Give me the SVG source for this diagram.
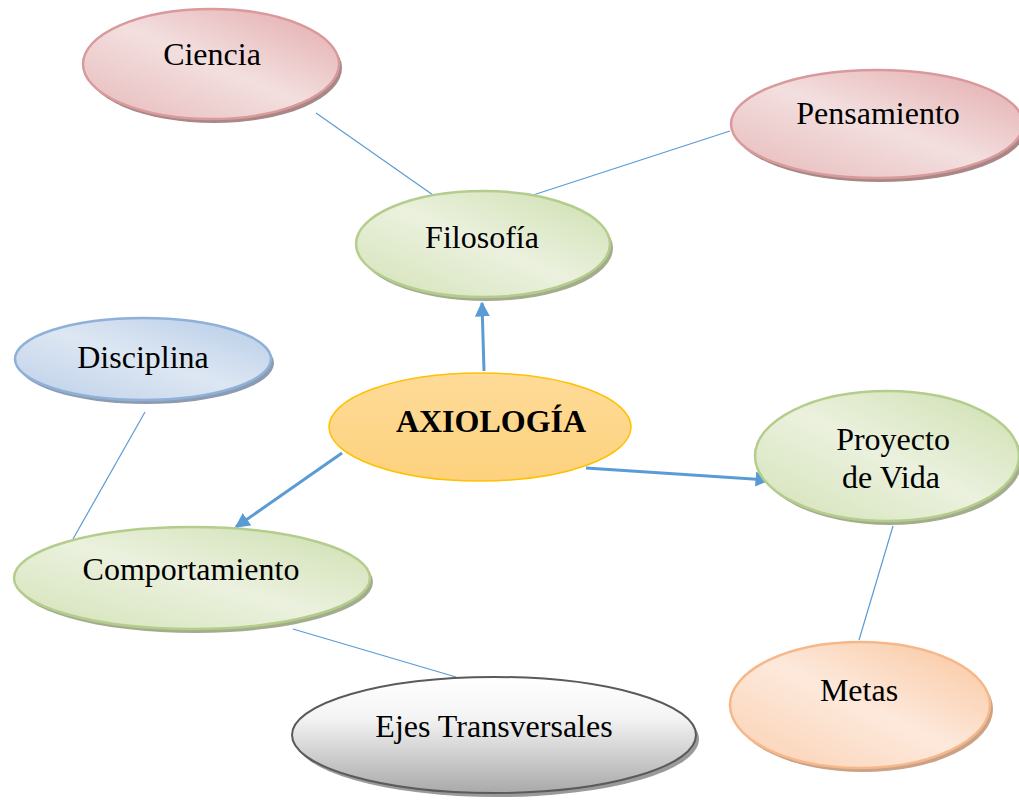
<svg xmlns="http://www.w3.org/2000/svg" width="1019" height="803" viewBox="0 0 1019 803">
<style>
text{font-family:"Liberation Serif","Times New Roman",serif;font-size:32px;fill:#000;text-anchor:middle}
.thin{stroke:#5b9bd5;stroke-width:1.2;fill:none}
.thick{stroke:#5b9bd5;stroke-width:3;fill:none}
.red{fill:url(#gRed);stroke:#d99a9c;stroke-width:2.5}
.green{fill:url(#gGreen);stroke:#b5cd8c;stroke-width:2.5}
.blue{fill:url(#gBlue);stroke:#8fb0d8;stroke-width:2.5}
.orange{fill:url(#gOrange);stroke:#f6b88a;stroke-width:2.5}
.gray{fill:url(#gGray);stroke:#5a5a5a;stroke-width:2}
.shR{fill:#a88787}.shG{fill:#a3ad8e}.shB{fill:#8c9bb0}.shO{fill:#c9a288}.shK{fill:#9a9a9a}
</style>
<defs>
<linearGradient id="gRed" x1="1" y1="0" x2="0" y2="1"><stop offset="0" stop-color="#e3a9ab"/><stop offset="0.5" stop-color="#f3dfdf"/><stop offset="1" stop-color="#e7b9ba"/></linearGradient>
<linearGradient id="gGreen" x1="1" y1="0" x2="0" y2="1"><stop offset="0" stop-color="#cddfae"/><stop offset="0.5" stop-color="#ebf1de"/><stop offset="1" stop-color="#d3e2b7"/></linearGradient>
<linearGradient id="gBlue" x1="1" y1="0" x2="0" y2="1"><stop offset="0" stop-color="#b5cbe7"/><stop offset="0.5" stop-color="#dde7f3"/><stop offset="1" stop-color="#bccfe8"/></linearGradient>
<linearGradient id="gOrange" x1="1" y1="0" x2="0" y2="1"><stop offset="0" stop-color="#f9c59c"/><stop offset="0.5" stop-color="#fde9dc"/><stop offset="1" stop-color="#fbd0b0"/></linearGradient>
<linearGradient id="gGray" x1="0" y1="0" x2="0" y2="1"><stop offset="0" stop-color="#ffffff"/><stop offset="0.35" stop-color="#f4f4f4"/><stop offset="1" stop-color="#a9a9a9"/></linearGradient>
<linearGradient id="gAxio" x1="0" y1="0" x2="0" y2="1"><stop offset="0" stop-color="#fedb98"/><stop offset="1" stop-color="#fdd27e"/></linearGradient>
<marker id="arr" viewBox="0 0 10 10" refX="9" refY="5" markerWidth="5" markerHeight="5" orient="auto" markerUnits="strokeWidth"><path d="M0,0 L10,5 L0,10 z" fill="#5b9bd5"/></marker>
</defs>
<g id="connectors">
<line class="thin" x1="316" y1="113" x2="433" y2="195"/>
<line class="thin" x1="730" y1="131" x2="527" y2="197"/>
<line class="thin" x1="145" y1="412" x2="73" y2="539"/>
<line class="thin" x1="293" y1="629" x2="456" y2="677"/>
<line class="thin" x1="893" y1="526" x2="859" y2="640"/>
<line class="thick" x1="484" y1="371" x2="482" y2="303" marker-end="url(#arr)"/>
<line class="thick" x1="342" y1="453" x2="236" y2="527" marker-end="url(#arr)"/>
<line class="thick" x1="586" y1="468" x2="769" y2="480" marker-end="url(#arr)"/>
</g>
<g id="ciencia"><ellipse class="shR" cx="214" cy="68" rx="128" ry="55"/><ellipse class="red" cx="211" cy="64" rx="128" ry="55"/><text x="212" y="65">Ciencia</text></g>
<g id="pensamiento"><ellipse class="shR" cx="880" cy="128" rx="146" ry="54"/><ellipse class="red" cx="877" cy="124" rx="146" ry="54"/><text x="878" y="124">Pensamiento</text></g>
<g id="filosofia"><ellipse class="shG" cx="486" cy="248" rx="127" ry="53"/><ellipse class="green" cx="483" cy="244" rx="127" ry="53"/><text x="482" y="248">Filosofía</text></g>
<g id="disciplina"><ellipse class="shB" cx="146" cy="363" rx="128" ry="41"/><ellipse class="blue" cx="143" cy="359" rx="128" ry="41"/><text x="143" y="368">Disciplina</text></g>
<g id="axiologia"><ellipse fill="url(#gAxio)" stroke="#ffc000" stroke-width="1.5" cx="480" cy="427" rx="151" ry="54"/><text x="491" y="432" font-weight="bold" font-size="34">AXIOLOGÍA</text></g>
<g id="proyecto"><ellipse class="shG" cx="890" cy="460" rx="132" ry="65"/><ellipse class="green" cx="887" cy="456" rx="132" ry="65"/><text x="893" y="450">Proyecto</text><text x="891" y="488">de Vida</text></g>
<g id="comportamiento"><ellipse class="shG" cx="195" cy="582" rx="178" ry="51"/><ellipse class="green" cx="192" cy="578" rx="178" ry="51"/><text x="191" y="580" font-size="29">Comportamiento</text></g>
<g id="ejes"><ellipse class="shK" cx="497" cy="739" rx="202" ry="58"/><ellipse class="gray" cx="494" cy="735" rx="202" ry="58"/><text x="494" y="737">Ejes Transversales</text></g>
<g id="metas"><ellipse class="shO" cx="863" cy="709" rx="130" ry="63"/><ellipse class="orange" cx="860" cy="705" rx="130" ry="63"/><text x="859" y="701">Metas</text></g>
</svg>
